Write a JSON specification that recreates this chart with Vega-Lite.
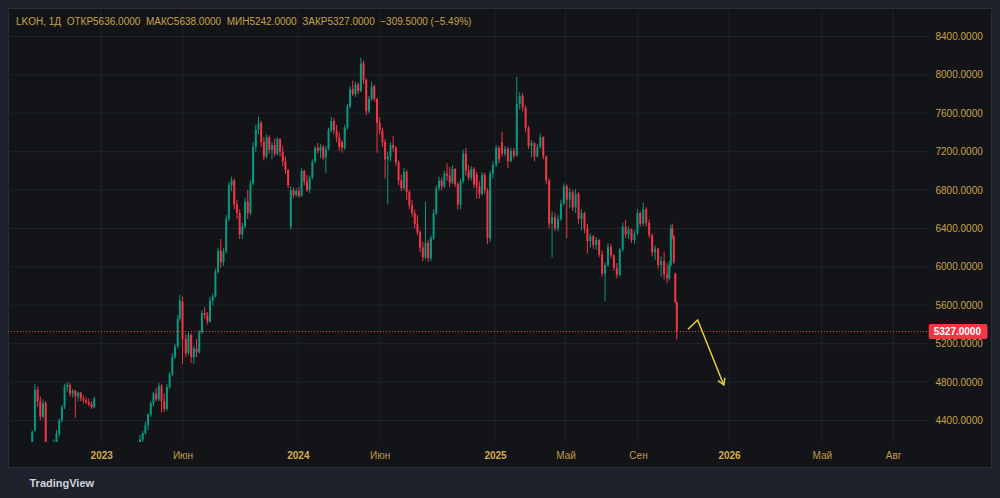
{
  "$schema": "https://vega.github.io/schema/vega-lite/v6.json",
  "width": 983,
  "height": 459,
  "autosize": {"type": "none"},
  "padding": {"left": 8, "top": 8, "right": 9, "bottom": 31},
  "background": "#1e222d",
  "view": {"fill": "#121418", "stroke": "#2a2e39", "strokeWidth": 1},
  "title": {
    "text": "LKOH, 1Д\u00a0\u00a0ОТКР5636.0000\u00a0\u00a0МАКС5638.0000\u00a0\u00a0МИН5242.0000\u00a0\u00a0ЗАКР5327.0000\u00a0\u00a0−309.5000 (−5.49%)",
    "anchor": "start",
    "frame": "group",
    "orient": "top",
    "offset": -24,
    "baseline": "middle",
    "dx": 8,
    "color": "#c9a24a",
    "font": "Liberation Sans",
    "fontSize": 10,
    "fontWeight": "normal"
  },
  "datasets": {
    "candles": [
      {"d":"2022-08-26","o":4150,"h":4300,"l":4140,"c":4280},
      {"d":"2022-08-31","o":4300,"h":4780,"l":4280,"c":4720},
      {"d":"2022-09-05","o":4720,"h":4750,"l":4540,"c":4600},
      {"d":"2022-09-10","o":4600,"h":4650,"l":4400,"c":4440},
      {"d":"2022-09-15","o":4440,"h":4620,"l":4420,"c":4580},
      {"d":"2022-09-20","o":4580,"h":4600,"l":4080,"c":4120},
      {"d":"2022-10-05","o":4080,"h":4200,"l":4050,"c":4160},
      {"d":"2022-10-10","o":4160,"h":4300,"l":4120,"c":4260},
      {"d":"2022-10-15","o":4260,"h":4420,"l":4230,"c":4400},
      {"d":"2022-10-20","o":4400,"h":4560,"l":4380,"c":4540},
      {"d":"2022-10-25","o":4540,"h":4780,"l":4520,"c":4750},
      {"d":"2022-10-30","o":4750,"h":4800,"l":4700,"c":4770},
      {"d":"2022-11-04","o":4770,"h":4790,"l":4650,"c":4680},
      {"d":"2022-11-09","o":4680,"h":4730,"l":4640,"c":4710},
      {"d":"2022-11-14","o":4710,"h":4720,"l":4430,"c":4650},
      {"d":"2022-11-19","o":4650,"h":4700,"l":4600,"c":4690},
      {"d":"2022-11-24","o":4690,"h":4700,"l":4600,"c":4630},
      {"d":"2022-11-29","o":4630,"h":4660,"l":4580,"c":4610},
      {"d":"2022-12-04","o":4610,"h":4640,"l":4570,"c":4590},
      {"d":"2022-12-09","o":4590,"h":4630,"l":4550,"c":4570},
      {"d":"2022-12-14","o":4570,"h":4600,"l":4520,"c":4540},
      {"d":"2022-12-19","o":4540,"h":4650,"l":4530,"c":4630},
      {"d":"2023-03-14","o":4120,"h":4250,"l":4100,"c":4200},
      {"d":"2023-03-19","o":4200,"h":4290,"l":4150,"c":4270},
      {"d":"2023-03-24","o":4270,"h":4390,"l":4250,"c":4350},
      {"d":"2023-03-29","o":4350,"h":4480,"l":4300,"c":4460},
      {"d":"2023-04-03","o":4460,"h":4600,"l":4440,"c":4580},
      {"d":"2023-04-08","o":4580,"h":4700,"l":4550,"c":4680},
      {"d":"2023-04-13","o":4680,"h":4740,"l":4600,"c":4620},
      {"d":"2023-04-18","o":4620,"h":4790,"l":4600,"c":4760},
      {"d":"2023-04-23","o":4760,"h":4780,"l":4480,"c":4600},
      {"d":"2023-04-28","o":4600,"h":4680,"l":4490,"c":4520},
      {"d":"2023-05-03","o":4520,"h":4780,"l":4500,"c":4750},
      {"d":"2023-05-08","o":4750,"h":4900,"l":4730,"c":4880},
      {"d":"2023-05-13","o":4880,"h":5100,"l":4860,"c":5060},
      {"d":"2023-05-18","o":5060,"h":5200,"l":5040,"c":5170},
      {"d":"2023-05-23","o":5170,"h":5500,"l":5150,"c":5460},
      {"d":"2023-05-27","o":5460,"h":5710,"l":5440,"c":5650},
      {"d":"2023-06-01","o":5640,"h":5690,"l":4990,"c":5250},
      {"d":"2023-06-07","o":5250,"h":5300,"l":5060,"c":5100},
      {"d":"2023-06-12","o":5100,"h":5320,"l":5080,"c":5290},
      {"d":"2023-06-17","o":5290,"h":5310,"l":5000,"c":5060},
      {"d":"2023-06-22","o":5060,"h":5180,"l":4990,"c":5150},
      {"d":"2023-06-27","o":5150,"h":5250,"l":5060,"c":5110},
      {"d":"2023-07-02","o":5110,"h":5340,"l":5100,"c":5320},
      {"d":"2023-07-07","o":5320,"h":5550,"l":5300,"c":5520},
      {"d":"2023-07-12","o":5520,"h":5580,"l":5460,"c":5500},
      {"d":"2023-07-17","o":5500,"h":5530,"l":5400,"c":5430},
      {"d":"2023-07-22","o":5430,"h":5690,"l":5420,"c":5650},
      {"d":"2023-07-27","o":5650,"h":5720,"l":5600,"c":5690},
      {"d":"2023-08-01","o":5690,"h":5980,"l":5680,"c":5950},
      {"d":"2023-08-06","o":5950,"h":6200,"l":5930,"c":6170},
      {"d":"2023-08-11","o":6170,"h":6290,"l":5990,"c":6050},
      {"d":"2023-08-16","o":6050,"h":6200,"l":6010,"c":6160},
      {"d":"2023-08-21","o":6160,"h":6540,"l":6140,"c":6500},
      {"d":"2023-08-26","o":6500,"h":6880,"l":6480,"c":6850},
      {"d":"2023-08-31","o":6850,"h":6940,"l":6790,"c":6900},
      {"d":"2023-09-05","o":6900,"h":6920,"l":6600,"c":6650},
      {"d":"2023-09-10","o":6650,"h":6700,"l":6500,"c":6560},
      {"d":"2023-09-15","o":6560,"h":6600,"l":6290,"c":6340},
      {"d":"2023-09-20","o":6340,"h":6460,"l":6290,"c":6420},
      {"d":"2023-09-25","o":6420,"h":6720,"l":6400,"c":6680},
      {"d":"2023-09-30","o":6680,"h":6800,"l":6500,"c":6560},
      {"d":"2023-10-05","o":6560,"h":6900,"l":6540,"c":6870},
      {"d":"2023-10-10","o":6870,"h":7300,"l":6850,"c":7250},
      {"d":"2023-10-15","o":7250,"h":7480,"l":7200,"c":7430},
      {"d":"2023-10-20","o":7430,"h":7565,"l":7380,"c":7500},
      {"d":"2023-10-25","o":7500,"h":7520,"l":7250,"c":7300},
      {"d":"2023-10-30","o":7300,"h":7350,"l":7110,"c":7150},
      {"d":"2023-11-04","o":7150,"h":7380,"l":7130,"c":7350},
      {"d":"2023-11-09","o":7350,"h":7370,"l":7180,"c":7220},
      {"d":"2023-11-14","o":7220,"h":7300,"l":7120,"c":7270},
      {"d":"2023-11-19","o":7270,"h":7340,"l":7150,"c":7180},
      {"d":"2023-11-24","o":7180,"h":7350,"l":7160,"c":7330},
      {"d":"2023-11-29","o":7330,"h":7340,"l":7150,"c":7200},
      {"d":"2023-12-04","o":7200,"h":7260,"l":7050,"c":7100},
      {"d":"2023-12-09","o":7100,"h":7150,"l":6970,"c":7010},
      {"d":"2023-12-14","o":7010,"h":7020,"l":6820,"c":6850},
      {"d":"2023-12-19","o":6420,"h":6840,"l":6390,"c":6800},
      {"d":"2023-12-24","o":6800,"h":6830,"l":6720,"c":6750},
      {"d":"2023-12-29","o":6750,"h":6820,"l":6730,"c":6790},
      {"d":"2024-01-03","o":6790,"h":6830,"l":6720,"c":6740},
      {"d":"2024-01-08","o":6740,"h":7030,"l":6730,"c":7000},
      {"d":"2024-01-13","o":7000,"h":7010,"l":6850,"c":6890},
      {"d":"2024-01-18","o":6890,"h":6960,"l":6780,"c":6800},
      {"d":"2024-01-23","o":6800,"h":6950,"l":6770,"c":6930},
      {"d":"2024-01-28","o":6930,"h":7120,"l":6910,"c":7100},
      {"d":"2024-02-02","o":7100,"h":7260,"l":7080,"c":7240},
      {"d":"2024-02-07","o":7240,"h":7290,"l":7180,"c":7210},
      {"d":"2024-02-12","o":7210,"h":7280,"l":7130,"c":7250},
      {"d":"2024-02-17","o":7250,"h":7270,"l":7110,"c":7140},
      {"d":"2024-02-22","o":7140,"h":7260,"l":6980,"c":7230},
      {"d":"2024-02-27","o":7230,"h":7450,"l":7210,"c":7420},
      {"d":"2024-03-03","o":7420,"h":7565,"l":7400,"c":7520},
      {"d":"2024-03-08","o":7520,"h":7550,"l":7380,"c":7420},
      {"d":"2024-03-13","o":7420,"h":7480,"l":7300,"c":7350},
      {"d":"2024-03-18","o":7350,"h":7400,"l":7210,"c":7250},
      {"d":"2024-03-23","o":7300,"h":7320,"l":7190,"c":7240},
      {"d":"2024-03-28","o":7240,"h":7480,"l":7220,"c":7450},
      {"d":"2024-04-02","o":7450,"h":7700,"l":7430,"c":7670},
      {"d":"2024-04-07","o":7670,"h":7880,"l":7650,"c":7850},
      {"d":"2024-04-12","o":7850,"h":7940,"l":7780,"c":7800},
      {"d":"2024-04-17","o":7800,"h":7930,"l":7770,"c":7900},
      {"d":"2024-04-22","o":7900,"h":7920,"l":7800,"c":7830},
      {"d":"2024-04-27","o":7830,"h":8180,"l":7820,"c":8120},
      {"d":"2024-05-02","o":8120,"h":8150,"l":7900,"c":7950},
      {"d":"2024-05-07","o":7950,"h":7960,"l":7580,"c":7620},
      {"d":"2024-05-12","o":7620,"h":7780,"l":7600,"c":7750},
      {"d":"2024-05-17","o":7750,"h":7930,"l":7730,"c":7880},
      {"d":"2024-05-22","o":7880,"h":7900,"l":7720,"c":7750},
      {"d":"2024-05-27","o":7750,"h":7760,"l":7190,"c":7500},
      {"d":"2024-06-01","o":7500,"h":7560,"l":7380,"c":7420},
      {"d":"2024-06-06","o":7420,"h":7450,"l":7250,"c":7300},
      {"d":"2024-06-11","o":7300,"h":7330,"l":6920,"c":7120},
      {"d":"2024-06-16","o":7120,"h":7200,"l":6650,"c":7150},
      {"d":"2024-06-21","o":7150,"h":7300,"l":7100,"c":7270},
      {"d":"2024-06-26","o":7270,"h":7360,"l":7200,"c":7240},
      {"d":"2024-07-01","o":7240,"h":7260,"l":7050,"c":7090},
      {"d":"2024-07-06","o":7090,"h":7110,"l":6850,"c":6900},
      {"d":"2024-07-11","o":6900,"h":6960,"l":6790,"c":6820},
      {"d":"2024-07-16","o":6820,"h":7030,"l":6800,"c":6990},
      {"d":"2024-07-21","o":6990,"h":7010,"l":6700,"c":6780},
      {"d":"2024-07-26","o":6780,"h":6800,"l":6600,"c":6640},
      {"d":"2024-07-31","o":6640,"h":6700,"l":6520,"c":6560},
      {"d":"2024-08-05","o":6560,"h":6600,"l":6400,"c":6450},
      {"d":"2024-08-10","o":6450,"h":6540,"l":6330,"c":6360},
      {"d":"2024-08-15","o":6360,"h":6380,"l":6150,"c":6200},
      {"d":"2024-08-20","o":6200,"h":6260,"l":6060,"c":6100},
      {"d":"2024-08-25","o":6100,"h":6680,"l":6080,"c":6250},
      {"d":"2024-08-30","o":6250,"h":6280,"l":6050,"c":6090},
      {"d":"2024-09-04","o":6090,"h":6330,"l":6060,"c":6300},
      {"d":"2024-09-09","o":6300,"h":6600,"l":6280,"c":6560},
      {"d":"2024-09-14","o":6560,"h":6850,"l":6540,"c":6820},
      {"d":"2024-09-19","o":6820,"h":6940,"l":6790,"c":6900},
      {"d":"2024-09-24","o":6900,"h":6930,"l":6800,"c":6840},
      {"d":"2024-09-29","o":6840,"h":7000,"l":6820,"c":6970},
      {"d":"2024-10-04","o":6970,"h":7080,"l":6900,"c":6950},
      {"d":"2024-10-09","o":6950,"h":7040,"l":6830,"c":6880},
      {"d":"2024-10-14","o":6880,"h":7060,"l":6860,"c":7020},
      {"d":"2024-10-19","o":7020,"h":7030,"l":6830,"c":6860},
      {"d":"2024-10-24","o":6860,"h":6880,"l":6600,"c":6650},
      {"d":"2024-10-29","o":6650,"h":6920,"l":6600,"c":6890},
      {"d":"2024-11-03","o":6890,"h":7220,"l":6870,"c":7180},
      {"d":"2024-11-08","o":7180,"h":7240,"l":6950,"c":7000},
      {"d":"2024-11-13","o":7000,"h":7060,"l":6900,"c":6930},
      {"d":"2024-11-18","o":6930,"h":7050,"l":6900,"c":7020},
      {"d":"2024-11-23","o":7020,"h":7040,"l":6820,"c":6860},
      {"d":"2024-11-28","o":6960,"h":6990,"l":6710,"c":6840},
      {"d":"2024-12-03","o":6840,"h":6890,"l":6710,"c":6760},
      {"d":"2024-12-08","o":6760,"h":6990,"l":6740,"c":6960},
      {"d":"2024-12-13","o":6960,"h":6980,"l":6760,"c":6800},
      {"d":"2024-12-18","o":6800,"h":6820,"l":6240,"c":6300},
      {"d":"2024-12-23","o":6300,"h":7000,"l":6260,"c":6970},
      {"d":"2024-12-28","o":6970,"h":7100,"l":6920,"c":7060},
      {"d":"2025-01-03","o":7060,"h":7270,"l":7040,"c":7240},
      {"d":"2025-01-08","o":7240,"h":7260,"l":7080,"c":7120},
      {"d":"2025-01-13","o":7300,"h":7410,"l":7150,"c":7180},
      {"d":"2025-01-18","o":7180,"h":7260,"l":7150,"c":7230},
      {"d":"2025-01-23","o":7230,"h":7250,"l":7030,"c":7100},
      {"d":"2025-01-28","o":7100,"h":7240,"l":7090,"c":7210},
      {"d":"2025-02-02","o":7210,"h":7240,"l":7130,"c":7160},
      {"d":"2025-02-07","o":7160,"h":7980,"l":7150,"c":7700},
      {"d":"2025-02-12","o":7700,"h":7820,"l":7640,"c":7780},
      {"d":"2025-02-17","o":7780,"h":7810,"l":7620,"c":7660},
      {"d":"2025-02-22","o":7660,"h":7680,"l":7400,"c":7450},
      {"d":"2025-02-27","o":7450,"h":7470,"l":7230,"c":7260},
      {"d":"2025-03-04","o":7260,"h":7320,"l":7140,"c":7290},
      {"d":"2025-03-09","o":7290,"h":7300,"l":7100,"c":7150},
      {"d":"2025-03-14","o":7150,"h":7280,"l":7140,"c":7250},
      {"d":"2025-03-19","o":7250,"h":7390,"l":7230,"c":7350},
      {"d":"2025-03-24","o":7350,"h":7360,"l":7120,"c":7150},
      {"d":"2025-03-29","o":7150,"h":7160,"l":6860,"c":6900},
      {"d":"2025-04-03","o":6900,"h":6920,"l":6400,"c":6450},
      {"d":"2025-04-08","o":6450,"h":6580,"l":6100,"c":6520},
      {"d":"2025-04-13","o":6520,"h":6560,"l":6370,"c":6400},
      {"d":"2025-04-18","o":6400,"h":6540,"l":6370,"c":6500},
      {"d":"2025-04-23","o":6500,"h":6700,"l":6480,"c":6660},
      {"d":"2025-04-28","o":6660,"h":6870,"l":6640,"c":6840},
      {"d":"2025-05-03","o":6840,"h":6860,"l":6300,"c":6700},
      {"d":"2025-05-08","o":6700,"h":6820,"l":6610,"c":6780},
      {"d":"2025-05-13","o":6780,"h":6800,"l":6580,"c":6620},
      {"d":"2025-05-18","o":6620,"h":6810,"l":6560,"c":6760},
      {"d":"2025-05-23","o":6760,"h":6780,"l":6450,"c":6500},
      {"d":"2025-05-28","o":6500,"h":6600,"l":6380,"c":6560},
      {"d":"2025-06-02","o":6560,"h":6580,"l":6350,"c":6400},
      {"d":"2025-06-07","o":6400,"h":6450,"l":6140,"c":6270},
      {"d":"2025-06-12","o":6270,"h":6350,"l":6200,"c":6320},
      {"d":"2025-06-17","o":6320,"h":6330,"l":6190,"c":6230},
      {"d":"2025-06-22","o":6230,"h":6310,"l":6180,"c":6280},
      {"d":"2025-06-27","o":6280,"h":6290,"l":6100,"c":6130},
      {"d":"2025-07-02","o":6130,"h":6170,"l":5900,"c":5930},
      {"d":"2025-07-07","o":5930,"h":6050,"l":5640,"c":6020},
      {"d":"2025-07-12","o":6020,"h":6250,"l":6000,"c":6210},
      {"d":"2025-07-17","o":6210,"h":6240,"l":6090,"c":6120},
      {"d":"2025-07-22","o":6120,"h":6130,"l":5960,"c":5990},
      {"d":"2025-07-27","o":5990,"h":6040,"l":5880,"c":5920},
      {"d":"2025-08-01","o":5920,"h":6200,"l":5900,"c":6180},
      {"d":"2025-08-06","o":6180,"h":6460,"l":6160,"c":6420},
      {"d":"2025-08-11","o":6420,"h":6490,"l":6300,"c":6340},
      {"d":"2025-08-16","o":6340,"h":6420,"l":6290,"c":6390},
      {"d":"2025-08-21","o":6390,"h":6400,"l":6250,"c":6280},
      {"d":"2025-08-26","o":6280,"h":6380,"l":6240,"c":6350},
      {"d":"2025-08-31","o":6350,"h":6600,"l":6330,"c":6560},
      {"d":"2025-09-04","o":6560,"h":6580,"l":6420,"c":6450},
      {"d":"2025-09-08","o":6450,"h":6670,"l":6430,"c":6600},
      {"d":"2025-09-12","o":6600,"h":6620,"l":6420,"c":6460},
      {"d":"2025-09-16","o":6460,"h":6490,"l":6300,"c":6330},
      {"d":"2025-09-20","o":6330,"h":6350,"l":6110,"c":6150},
      {"d":"2025-09-24","o":6150,"h":6220,"l":6070,"c":6190},
      {"d":"2025-09-28","o":6190,"h":6200,"l":5980,"c":6020},
      {"d":"2025-10-02","o":6020,"h":6110,"l":5900,"c":6060},
      {"d":"2025-10-06","o":6060,"h":6160,"l":5870,"c":5920},
      {"d":"2025-10-10","o":5920,"h":6040,"l":5830,"c":5880},
      {"d":"2025-10-13","o":5880,"h":6060,"l":5860,"c":6020},
      {"d":"2025-10-15","o":6020,"h":6440,"l":6000,"c":6400},
      {"d":"2025-10-17","o":6400,"h":6450,"l":6290,"c":6320},
      {"d":"2025-10-19","o":6320,"h":6330,"l":6030,"c":6050},
      {"d":"2025-10-21","o":5930,"h":5940,"l":5620,"c":5636.5},
      {"d":"2025-10-23","o":5636,"h":5638,"l":5242,"c":5327}
    ],
    "arrow": [
      {"i":0,"d":"2025-11-07","p":5350},
      {"i":1,"d":"2025-11-20","p":5447},
      {"i":2,"d":"2025-12-25","p":4770}
    ],
    "priceTicks": [
      {"p":4400},{"p":4800},{"p":5200},{"p":5600},{"p":6000},{"p":6400},
      {"p":6800},{"p":7200},{"p":7600},{"p":8000},{"p":8400}
    ],
    "timeTicks": [
      {"t":"2023-01-01"},{"t":"2023-06-01"},{"t":"2024-01-01"},{"t":"2024-06-01"},
      {"t":"2025-01-01"},{"t":"2025-05-01"},{"t":"2025-09-01"},{"t":"2026-01-01"},
      {"t":"2026-05-01"},{"t":"2026-08-01"}
    ]
  },
  "layer": [
    {
      "data": {"name": "timeTicks"},
      "mark": {"type": "rule", "color": "#1f232b", "strokeWidth": 1},
      "encoding": {
        "x": {
          "field": "t",
          "type": "temporal",
          "scale": {
            "type": "utc",
            "nice": false,
            "padding": 0,
            "domain": {"expr": "[1657584000000, 1735689600000, 1756684800000, 1767225600000, 1789171200000]"},
            "range": [0, 487, 630, 721, 917.6]
          },
          "axis": {
            "orient": "bottom",
            "offset": -25,
            "values": [1672531200000, 1685577600000, 1704067200000, 1717200000000, 1735689600000, 1746057600000, 1756684800000, 1767225600000, 1777593600000, 1785542400000],
            "labelExpr": "utcmonth(datum.value) == 0 ? '' + utcyear(datum.value) : ['Янв','Фев','Мар','Апр','Май','Июн','Июл','Авг','Сен','Окт','Ноя','Дек'][utcmonth(datum.value)]",
            "domain": false,
            "ticks": false,
            "grid": false,
            "labelPadding": 8,
            "labelFont": "Liberation Sans",
            "labelFontSize": 10,
            "labelOverlap": false,
            "labelFlush": false,
            "labelColor": {"condition": {"test": "utcmonth(datum.value) == 0", "value": "#d6ac4c"}, "value": "#c09a48"},
            "labelFontWeight": {"condition": {"test": "utcmonth(datum.value) == 0", "value": "bold"}, "value": "normal"},
            "title": "TradingView",
            "titleX": 21,
            "titleY": 41,
            "titleAlign": "left",
            "titleBaseline": "middle",
            "titleAngle": 0,
            "titleFont": "Liberation Sans",
            "titleFontSize": 11,
            "titleFontWeight": "bold",
            "titleColor": "#d1d4dc"
          }
        },
        "y": {"datum": 4176, "type": "quantitative"},
        "y2": {"datum": 8697}
      }
    },
    {
      "data": {"name": "priceTicks"},
      "mark": {"type": "rule", "color": "#1f232b", "strokeWidth": 1},
      "encoding": {
        "y": {
          "field": "p",
          "type": "quantitative",
          "scale": {"domain": [4176, 8697], "range": [434, 0], "nice": false, "zero": false, "clamp": true, "padding": 0},
          "axis": {
            "orient": "right",
            "offset": -63,
            "values": [4400, 4800, 5200, 5600, 6000, 6400, 6800, 7200, 7600, 8000, 8400],
            "format": ".4f",
            "domain": false,
            "ticks": false,
            "grid": false,
            "labelPadding": 7,
            "labelFont": "Liberation Sans",
            "labelFontSize": 10,
            "labelColor": "#c9a24a",
            "title": null
          }
        },
        "x": {"datum": 1657584000000, "type": "temporal"},
        "x2": {"datum": 1789430400000}
      }
    },
    {
      "data": {"name": "candles"},
      "mark": {"type": "rule", "strokeWidth": 1},
      "encoding": {
        "x": {"field": "d", "type": "temporal"},
        "y": {"field": "l", "type": "quantitative"},
        "y2": {"field": "h"},
        "color": {"condition": {"test": "datum.c >= datum.o", "value": "#089981"}, "value": "#f23645"}
      }
    },
    {
      "data": {"name": "candles"},
      "mark": {"type": "bar", "width": 2},
      "encoding": {
        "x": {"field": "d", "type": "temporal"},
        "y": {"field": "o", "type": "quantitative"},
        "y2": {"field": "c"},
        "color": {"condition": {"test": "datum.c >= datum.o", "value": "#089981"}, "value": "#f23645"}
      }
    },
    {
      "data": {"name": "candles"},
      "transform": [{"filter": "utcyear(datum.d) == 2025 && utcmonth(datum.d) == 9 && utcdate(datum.d) == 23"}],
      "mark": {"type": "rule", "color": "#f23645", "strokeWidth": 1, "strokeDash": [1, 2]},
      "encoding": {
        "y": {"field": "c", "type": "quantitative"},
        "x": {"datum": 1657584000000, "type": "temporal"},
        "x2": {"datum": 1789430400000}
      }
    },
    {
      "data": {"name": "arrow"},
      "mark": {"type": "line", "color": "#e8cf3a", "strokeWidth": 1.5},
      "encoding": {
        "x": {"field": "d", "type": "temporal"},
        "y": {"field": "p", "type": "quantitative"},
        "order": {"field": "i"}
      }
    },
    {
      "data": {"name": "arrow"},
      "transform": [{"filter": "datum.i == 2"}],
      "mark": {"type": "point", "shape": "M-0.6,-1L0,0L0.6,-1", "angle": -22, "size": 150, "filled": false, "strokeWidth": 1.5, "color": "#e8cf3a", "opacity": 1},
      "encoding": {
        "x": {"field": "d", "type": "temporal"},
        "y": {"field": "p", "type": "quantitative"}
      }
    },
    {
      "data": {"name": "candles"},
      "transform": [{"filter": "utcyear(datum.d) == 2025 && utcmonth(datum.d) == 9 && utcdate(datum.d) == 23"}],
      "mark": {"type": "bar", "height": 15, "color": "#f23645", "cornerRadius": 2},
      "encoding": {
        "y": {"field": "c", "type": "quantitative"},
        "x": {"datum": 1789516800000, "type": "temporal"},
        "x2": {"datum": 1796083200000}
      }
    },
    {
      "data": {"name": "candles"},
      "transform": [{"filter": "utcyear(datum.d) == 2025 && utcmonth(datum.d) == 9 && utcdate(datum.d) == 23"}],
      "mark": {"type": "text", "color": "#ffffff", "font": "Liberation Sans", "fontSize": 10, "fontWeight": "bold", "baseline": "middle", "align": "center"},
      "encoding": {
        "y": {"field": "c", "type": "quantitative"},
        "x": {"datum": 1792713600000, "type": "temporal"},
        "text": {"field": "c", "type": "quantitative", "format": ".4f"}
      }
    }
  ]
}
